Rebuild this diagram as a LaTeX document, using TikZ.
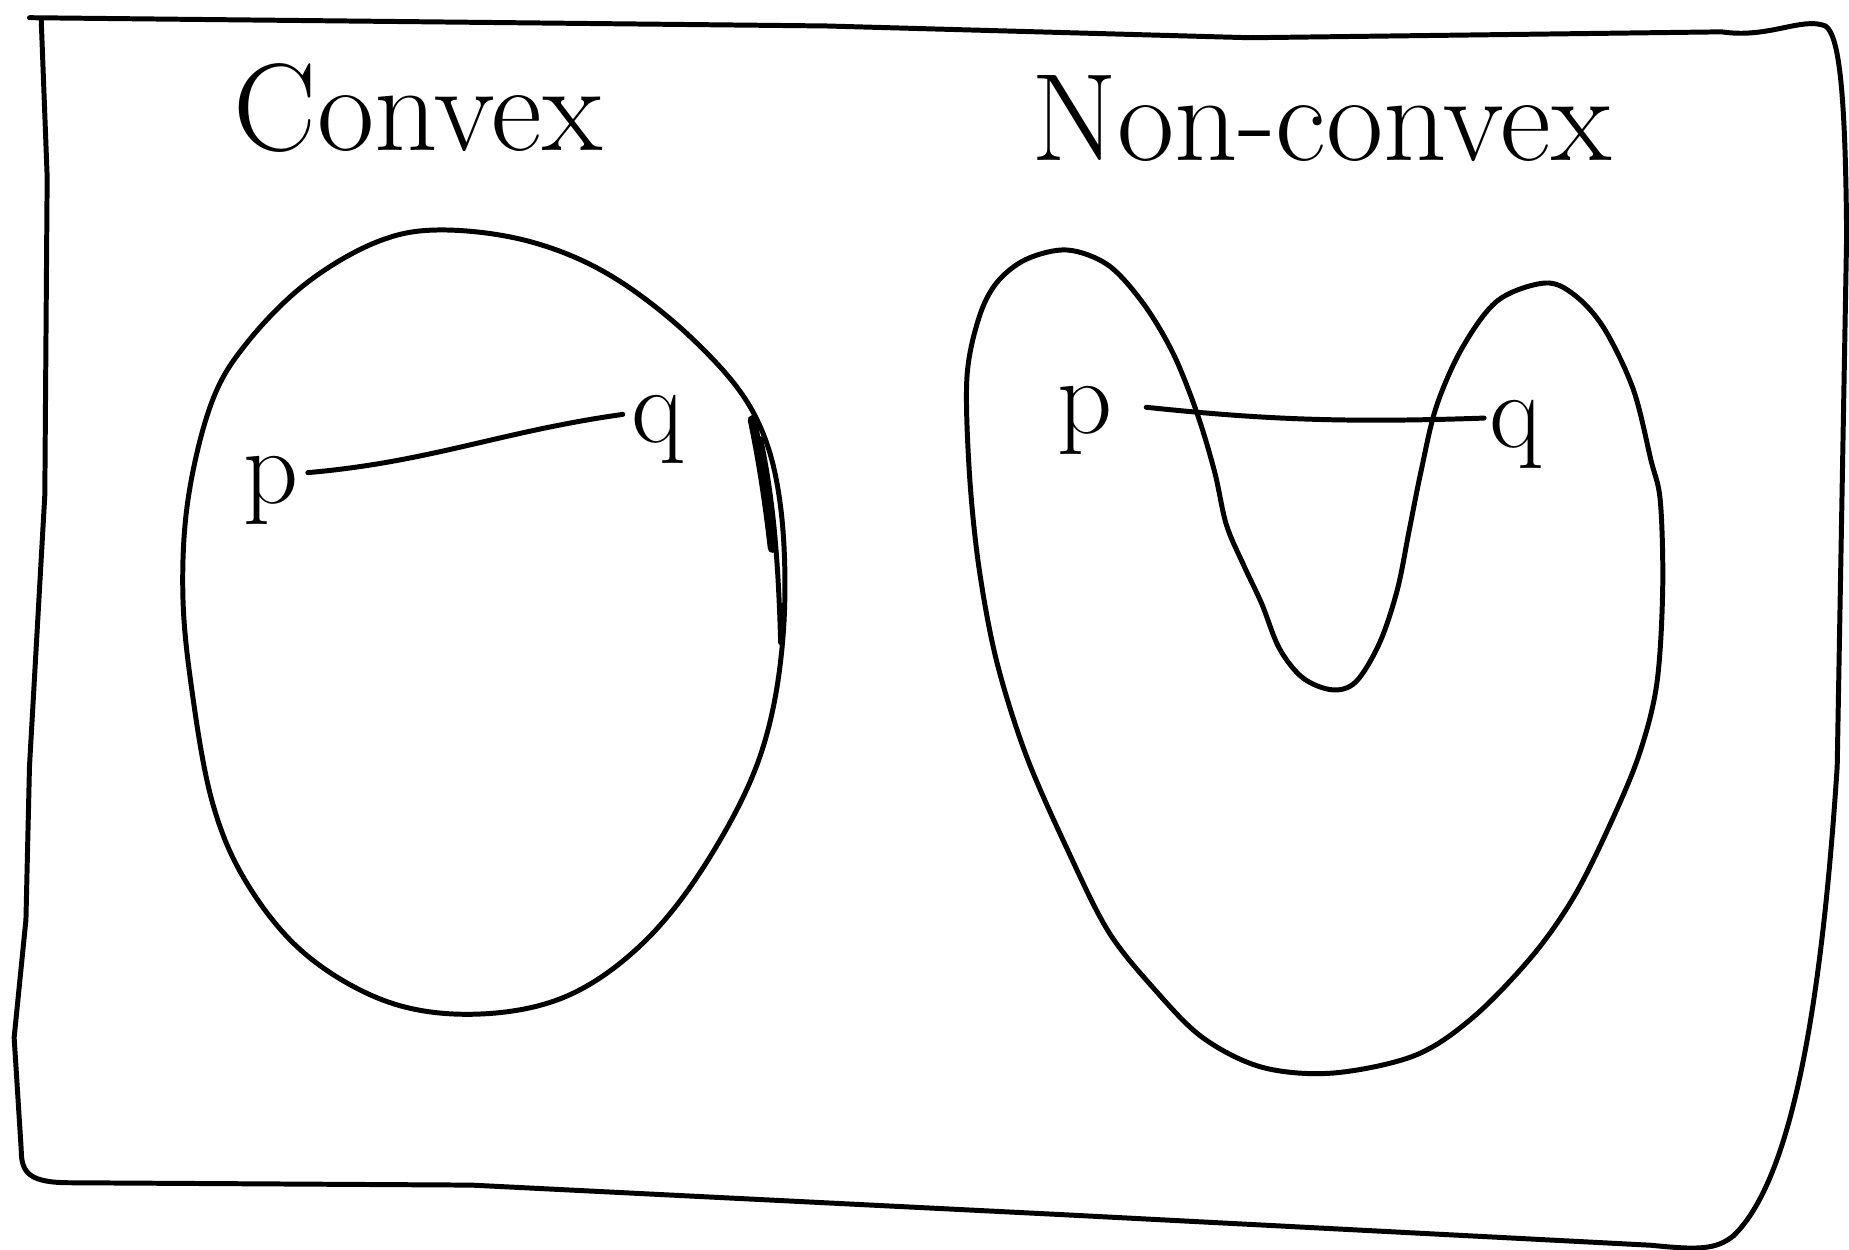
\documentclass[tikz,border=0pt]{standalone}
\usepackage{tikz}
\usetikzlibrary{positioning,calc}

\begin{document}
\begin{tikzpicture}[x=0.01cm,y=-0.01cm,
      ink/.style={draw=black,line width=1.2pt,line cap=round,line join=round},
      title/.style={font=\fontsize{30}{36}\selectfont},
      ptlab/.style={font=\fontsize{26}{30}\selectfont,inner sep=0pt}]
    \useasboundingbox (0,0) rectangle (1568,1060);
    % hand-drawn frame
    \draw[ink] (25,15) -- (700,22) -- (1060,32) -- (1460,27)
      .. controls (1500,33) and (1528,14) .. (1548,22)
      .. controls (1560,30) and (1565,80) .. (1566,200)
      -- (1558,650)
      .. controls (1545,850) and (1520,1000) .. (1470,1048)
      .. controls (1455,1060) and (1440,1060) .. (1400,1056)
      -- (900,1030) -- (400,1005) -- (60,1003)
      .. controls (25,1003) and (18,995) .. (18,975)
      -- (12,880) -- (22,780) -- (25,650) -- (38,420) -- (40,150) -- (35,18);
    % titles
    \node[title,anchor=base west] (titleConvex) at (186,128) {Convex};
    \node[title,anchor=base west] (titleNonconvex) at (862,136) {Non-convex};
    % convex set
    \draw[ink] plot[smooth cycle,tension=0.6] coordinates {
      (375,195) (450,205) (520,235) (590,290) (640,352) (662,430) (664,540)
      (645,640) (600,730) (545,800) (480,845) (405,860) (330,850) (260,810)
      (210,750) (180,680) (162,580) (155,500) (160,420) (180,340) (210,290)
      (260,240) (320,205)};
    % re-stroked part of the boundary
    \draw[ink,line width=2.2pt] (638,356) .. controls (646,395) and (651,430) .. (655,465);
    \draw[ink] (645,372) .. controls (655,420) and (660,470) .. (662,545);
    \node[ptlab,anchor=mid] (pC) at (230,419) {p};
    \node[ptlab,anchor=mid] (qC) at (558,368) {q};
    \draw[ink,shorten <=2pt,shorten >=2pt] ([yshift=5pt]pC.mid east) to[out=5,in=188] ([yshift=5pt]qC.mid west);
    % non-convex set
    \draw[ink] plot[smooth cycle,tension=0.55] coordinates {
      (905,212) (940,225) (970,258) (995,300) (1015,350) (1030,400) (1040,445)
      (1055,480) (1070,512) (1085,550) (1105,575) (1130,585) (1150,578)
      (1170,545) (1185,500) (1195,450) (1205,400) (1218,345) (1240,295)
      (1270,255) (1310,240) (1335,250) (1360,278) (1385,330) (1400,390)
      (1408,425) (1410,500) (1405,580) (1390,640) (1365,700) (1335,760)
      (1300,810) (1250,862) (1200,895) (1130,910) (1070,905) (1020,880)
      (980,840) (940,790) (905,720) (870,640) (845,560) (830,480) (822,400)
      (820,320) (830,270) (845,240) (870,220)};
    \node[ptlab,anchor=mid] (pN) at (920,360) {p};
    \node[ptlab,anchor=mid] (qN) at (1285,372) {q};
    \draw[ink,shorten <=8pt,shorten >=1pt] ([yshift=5pt]pN.mid east) to[out=-6,in=182] ([yshift=5pt]qN.mid west);
  \end{tikzpicture}
\end{document}
